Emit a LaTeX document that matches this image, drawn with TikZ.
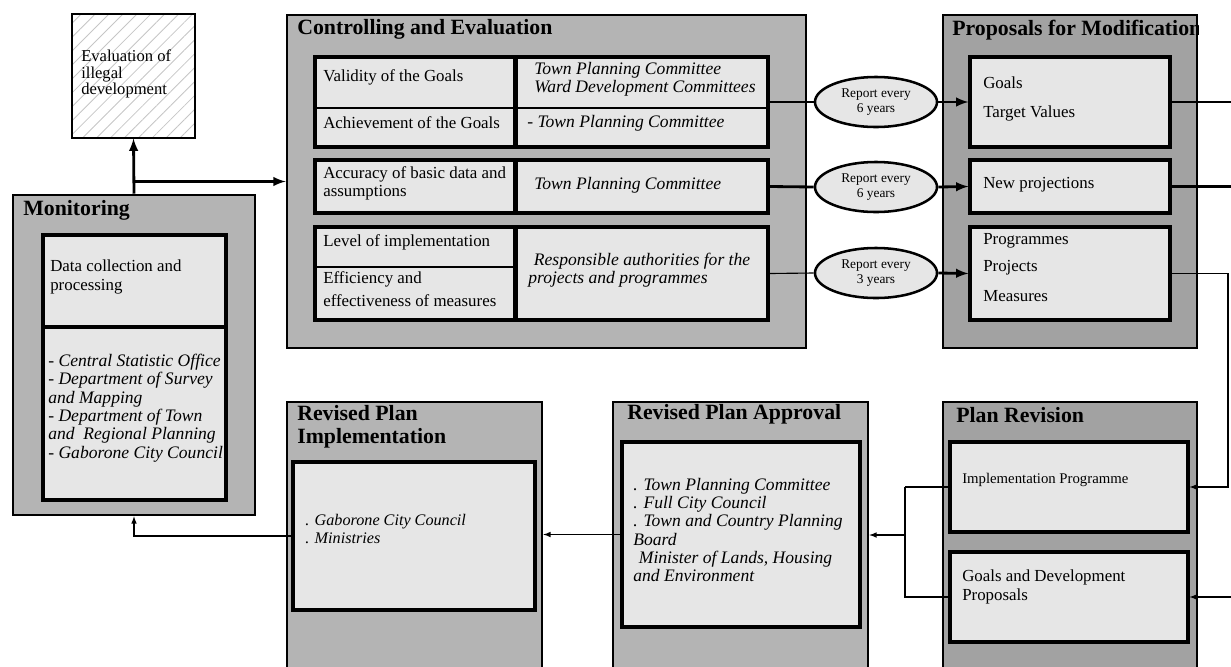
\documentclass[tikz,border=0pt]{standalone}
\usepackage{fontspec}
\setmainfont{Liberation Serif}
\usetikzlibrary{fit,patterns.meta,shapes.geometric}
\definecolor{boxgray}{HTML}{B4B4B4}
\definecolor{darkgray}{HTML}{A2A2A2}
\definecolor{cellgray}{HTML}{E6E6E6}
\begin{document}
\begin{tikzpicture}[x=0.025cm, y=-0.025cm, >=latex,
    outer/.style={draw, line width=1.8pt, fill=#1, inner sep=0pt},
    outer/.default=boxgray,
    cell/.style={draw, line width=2.2pt, fill=cellgray, inner sep=0pt},
    report/.style={ellipse, draw, line width=1.8pt, fill=cellgray, minimum width=3.05cm, minimum height=1.25cm, inner sep=0pt, align=center, font=\fontsize{9.5}{11}\selectfont},
    title/.style={anchor=west, inner sep=0pt, align=left, font=\bfseries\fontsize{15.5}{16.5}\selectfont},
    txt/.style={anchor=west, inner sep=0pt, align=left, font=\fontsize{12}{13}\selectfont},
    itx/.style={txt, font=\itshape\fontsize{12.5}{13}\selectfont},
    link/.style={line width=0.8pt},
    boldlink/.style={line width=2pt}]
    \path[use as bounding box, clip] (0,0) rectangle (1231,666);
    \node[draw, line width=1.8pt, inner sep=0pt, pattern={Lines[angle=45,distance=7pt,line width=.6pt]}, pattern color=gray!45, fit={(72,14) (195,138)}] (eval) {};
    \node[txt, font=\fontsize{11.8}{12}\selectfont] (evalt) at (81,74) {Evaluation of\\illegal\\development};
    \node[outer, fit={(13,195) (255,515)}] (mon) {};
    \node[title] (mont) at (23,210) {Monitoring};
    \node[cell, fit={(43,235) (226,327)}] (m1) {};
    \node[cell, fit={(43,327) (226,500)}] (m2) {};
    \node[txt] (m1t) at (50,277) {Data collection and\\processing};
    \node[itx] (m2t) at (48,408) {- Central Statistic Office\\- Department of Survey\\and Mapping\\- Department of Town\\and \ Regional Planning\\- Gaborone City Council};
    \node[outer, fit={(287,15) (806,348)}] (ctrl) {};
    \node[title] (ctrlt) at (297,29) {Controlling and Evaluation};
    \node[cell, fit={(315,57) (768,147)}] (g1) {};
    \node[cell, fit={(315,160) (768,213)}] (g2) {};
    \node[cell, fit={(315,227) (768,320)}] (g3) {};
    \draw[line width=2pt] (315,108) -- (768,108);
    \draw[line width=2pt] (315,267) -- (515.5,267);
    \foreach \g in {g1,g2,g3}
        \draw[line width=4pt] (\g.north -| 515.5,0) -- (\g.south -| 515.5,0);
    \node[txt] (c11) at (323,77) {Validity of the Goals};
    \node[itx] (c12) at (534,79) {Town Planning Committee\\Ward Development Committees};
    \node[txt] (c21) at (323,123) {Achievement of the Goals};
    \node[itx] (c22) at (527,123) {- Town Planning Committee};
    \node[txt] (c31) at (323,183) {Accuracy of basic data and\\assumptions};
    \node[itx] (c32) at (534,185) {Town Planning Committee};
    \node[txt] (c41) at (323,242) {Level of implementation};
    \node[txt] (c51) at (323,289) {Efficiency and\\[3pt]effectiveness of measures};
    \node[itx] (c42) at (528,270) {\hspace*{4pt}Responsible authorities for the\\projects and programmes};
    \node[report] (rp1) at (876,102) {Report every\\6 years};
    \node[report] (rp2) at (876,187) {Report every\\6 years};
    \node[report] (rp3) at (876,273) {Report every\\3 years};
    \node[outer=darkgray, fit={(943,15) (1197,348)}] (prop) {};
    \begin{scope}
        \clip (prop.north west) rectangle (prop.south east);
        \node[title] (propt) at (952,30) {Proposals for Modification};
    \end{scope}
    \node[cell, fit={(970,57) (1170,147)}] (p1) {};
    \node[cell, fit={(970,160) (1170,213)}] (p2) {};
    \node[cell, fit={(970,227) (1170,320)}] (p3) {};
    \node[txt] (p1a) at (983,83) {Goals};
    \node[txt] (p1b) at (983,113) {Target Values};
    \node[txt] (p2a) at (983,185) {New projections};
    \node[txt] (p3a) at (983,241) {Programmes};
    \node[txt] (p3b) at (983,268) {Projects};
    \node[txt] (p3c) at (983,296) {Measures};
    \node[outer=darkgray, fit={(943,402) (1197,700)}] (rev) {};
    \node[title] (revt) at (956,415) {Plan Revision};
    \node[cell, fit={(950,442) (1188,532)}] (r1) {};
    \node[cell, fit={(950,552) (1188,642)}] (r2) {};
    \node[txt, font=\fontsize{10.5}{12}\selectfont] (r1t) at (962,480) {Implementation Programme};
    \node[txt] (r2t) at (962,587) {Goals and Development\\Proposals};
    \node[outer, fit={(613,402) (868,700)}] (appr) {};
    \node[title] (apprt) at (627,414) {Revised Plan Approval};
    \node[cell, fit={(622,442) (860,627)}] (a1) {};
    \node[itx] (a1t) at (633,530) {. Town Planning Committee\\. Full City Council\\. Town and Country Planning\\Board\\\hspace*{4pt}Minister of Lands, Housing\\and Environment};
    \node[outer, fit={(287,402) (542,700)}] (impl) {};
    \node[title] (implt) at (297,426.5) {Revised Plan\\Implementation};
    \node[cell, fit={(293,462) (535,610)}] (i1) {};
    \node[itx, font=\itshape\fontsize{11.5}{13}\selectfont] (i1t) at (305,529) {. Gaborone City Council\\. Ministries};
    \coordinate (edge) at (1231,0);
    \coordinate (turn) at (1228,0);
    \coordinate (jn) at (905,0);
    \coordinate (jm) at (905,535);
    \draw[boldlink, ->] (mon.north) -- (eval.south);
    \draw[boldlink, ->] (mon.north |- ctrl.west) -- (ctrl.west);
    \draw[link] (g1.east) -- (rp1.west);
    \draw[boldlink] (g2.east) -- (rp2.west);
    \draw[link] (g3.east) -- (rp3.west);
    \draw[boldlink, ->] (rp1.east) -- (p1.west);
    \draw[boldlink, ->] (rp2.east) -- (p2.west);
    \draw[boldlink, ->] (rp3.east) -- (p3.west);
    \draw[boldlink] (p1.east) -- (p1.east -| edge);
    \draw[boldlink] (p2.east) -- (p2.east -| edge);
    \draw[link, ->] (p3.east) -- (p3.east -| turn) |- (r1.east);
    \draw[link, ->] (r2.east -| edge) -- (r2.east);
    \draw[boldlink] (r1.west) -- (r1.west -| jn);
    \draw[link] (r1.west -| jn) |- (r2.west);
    \draw[link, ->] (jm) -- (jm -| appr.east);
    \draw[link, ->] (a1.west) -- (a1.west -| impl.east);
    \draw[link, ->] (i1.west) -| (mon.south);
\end{tikzpicture}
\end{document}
